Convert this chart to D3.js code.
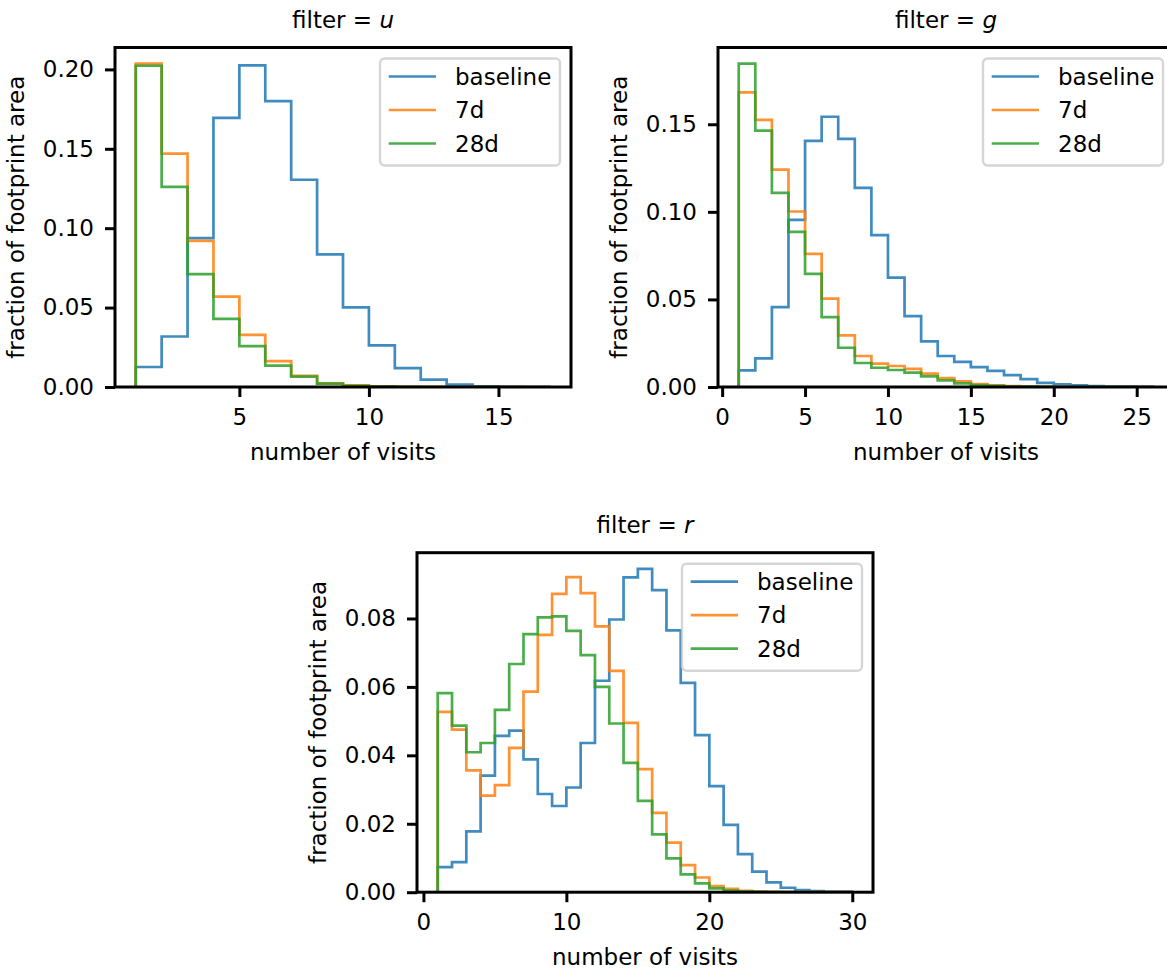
<!DOCTYPE html>
<html>
<head>
<meta charset="utf-8">
<script src="https://cdn.jsdelivr.net/npm/d3@7/dist/d3.min.js"></script>
<style>
  body { margin: 0; background: #fff; }
  svg text { font-family: "DejaVu Sans", sans-serif; fill: #000; }
</style>
</head>
<body>
<svg id="chart" width="1167" height="969"></svg>
<script>
// series labels and colours
const seriesNames = ['baseline', '7d', '28d'];
const seriesColors = ['#1f77b4', '#ff7f0e', '#2ca02c'];

// filter = u, bins of width 1 starting at 1 visit
const uFirstBin = 1;
const uBaseline = [0.0126, 0.0318, 0.0937, 0.1695, 0.2025, 0.1800, 0.1305, 0.0835, 0.0502, 0.0262, 0.0119, 0.0046, 0.0015, 0.0004, 0.0001, 0.0000];
const u7d       = [0.2036, 0.1469, 0.0920, 0.0569, 0.0328, 0.0163, 0.0071, 0.0023, 0.0010, 0.0004, 0.0001, 0.0001, 0, 0, 0, 0];
const u28d      = [0.2023, 0.1260, 0.0711, 0.0429, 0.0257, 0.0134, 0.0065, 0.0021, 0.0008, 0.0002, 0.0001, 0, 0, 0, 0, 0];
const uXTicks = [5, 10, 15];
const uYTicks = [0, 0.05, 0.10, 0.15, 0.20];

// filter = g
const gFirstBin = 1;
const gBaseline = [0.0095, 0.0163, 0.0456, 0.0954, 0.1405, 0.1543, 0.1417, 0.1137, 0.0867, 0.0624, 0.0405, 0.0261, 0.0177, 0.0144, 0.0114, 0.0092, 0.0068, 0.0045, 0.0024, 0.0015, 0.0009, 0.0005, 0.0003, 0.0002, 0.0001];
const g7d       = [0.1682, 0.1525, 0.1241, 0.1002, 0.0760, 0.0504, 0.0295, 0.0177, 0.0133, 0.0120, 0.0103, 0.0076, 0.0051, 0.0032, 0.0017, 0.0010, 0.0005, 0.0003, 0.0001, 0.0001, 0, 0, 0, 0, 0];
const g28d      = [0.1846, 0.1464, 0.1108, 0.0886, 0.0646, 0.0399, 0.0224, 0.0137, 0.0110, 0.0097, 0.0082, 0.0061, 0.0038, 0.0021, 0.0011, 0.0006, 0.0003, 0.0002, 0.0001, 0, 0, 0, 0, 0, 0];
const gXTicks = [0, 5, 10, 15, 20, 25];
const gYTicks = [0, 0.05, 0.10, 0.15];

// filter = r
const rFirstBin = 1;
const rBaseline = [0.0073, 0.0088, 0.0178, 0.0341, 0.0457, 0.0472, 0.0388, 0.0287, 0.0252, 0.0306, 0.0436, 0.0618, 0.0797, 0.0920, 0.0945, 0.0883, 0.0765, 0.0612, 0.0459, 0.0310, 0.0197, 0.0111, 0.0060, 0.0029, 0.0013, 0.0006, 0.0003, 0.0001, 0.0001];
const r7d       = [0.0527, 0.0475, 0.0356, 0.0282, 0.0313, 0.0422, 0.0586, 0.0752, 0.0872, 0.0921, 0.0874, 0.0777, 0.0647, 0.0495, 0.0360, 0.0232, 0.0145, 0.0079, 0.0043, 0.0018, 0.0010, 0.0004, 0.0002, 0.0001, 0, 0, 0, 0, 0];
const r28d      = [0.0582, 0.0487, 0.0409, 0.0436, 0.0533, 0.0667, 0.0754, 0.0803, 0.0806, 0.0764, 0.0693, 0.0600, 0.0493, 0.0378, 0.0267, 0.0169, 0.0099, 0.0052, 0.0026, 0.0011, 0.0005, 0.0002, 0.0001, 0, 0, 0, 0, 0, 0];
const rXTicks = [0, 10, 20, 30];
const rYTicks = [0, 0.02, 0.04, 0.06, 0.08];

const svg = d3.select('#chart');
svg.append('rect').attr('width', 1167).attr('height', 969).attr('fill', '#fff');

const FONT = 23;
const SPINE = 3;
const LINE = 2.7;

const panels = [
  { filter: 'u', left: 115, top: 47.5, first: uFirstBin, series: [uBaseline, u7d, u28d], xTicks: uXTicks, yTicks: uYTicks },
  { filter: 'g', left: 718, top: 47.5, first: gFirstBin, series: [gBaseline, g7d, g28d], xTicks: gXTicks, yTicks: gYTicks },
  { filter: 'r', left: 417, top: 552.7, first: rFirstBin, series: [rBaseline, r7d, r28d], xTicks: rXTicks, yTicks: rYTicks }
];

const W = 456, H = 339.5;

panels.forEach((p, pi) => {
  const nBins = p.series[0].length;
  const lo = p.first, hi = p.first + nBins;
  const pad = (hi - lo) * 0.05;
  const ymax = d3.max(p.series, s => d3.max(s)) * 1.05;

  const x = d3.scaleLinear().domain([lo - pad, hi + pad]).range([0, W]);
  const y = d3.scaleLinear().domain([0, ymax]).range([H, 0]);

  const g = svg.append('g').attr('transform', `translate(${p.left},${p.top})`);

  g.append('clipPath').attr('id', 'clip' + pi)
    .append('rect').attr('width', W).attr('height', H);

  // step histograms
  const line = d3.line().x(d => x(d[0])).y(d => y(d[1]));
  p.series.forEach((vals, si) => {
    const pts = [[lo, 0]];
    vals.forEach((v, i) => { pts.push([lo + i, v]); pts.push([lo + i + 1, v]); });
    pts.push([hi, 0]);
    g.append('path')
      .attr('d', line(pts))
      .attr('clip-path', `url(#clip${pi})`)
      .attr('fill', 'none')
      .attr('stroke', seriesColors[si])
      .attr('stroke-opacity', 0.85)
      .attr('stroke-width', LINE)
      .attr('stroke-linejoin', 'miter');
  });

  // axes
  const xAxis = g.append('g').attr('transform', `translate(0,${H})`)
    .call(d3.axisBottom(x).tickValues(p.xTicks).tickSize(10).tickPadding(11.5).tickFormat(d3.format('d')));
  const yAxis = g.append('g')
    .call(d3.axisLeft(y).tickValues(p.yTicks).tickSize(10).tickPadding(11).tickFormat(d3.format('.2f')));
  [xAxis, yAxis].forEach(a => {
    a.select('.domain').remove();
    a.selectAll('.tick line').attr('stroke', '#000').attr('stroke-width', SPINE);
    a.selectAll('.tick text').attr('font-size', FONT).attr('font-family', '"DejaVu Sans", sans-serif');
  });

  // spines
  g.append('rect').attr('width', W).attr('height', H)
    .attr('fill', 'none').attr('stroke', '#000').attr('stroke-width', SPINE);

  // legend
  const lw = 180, lh = 107;
  const leg = g.append('g').attr('transform', `translate(${W - 11 - lw},11)`);
  leg.append('rect').attr('width', lw).attr('height', lh).attr('rx', 4.5)
    .attr('fill', '#fff').attr('fill-opacity', 0.8)
    .attr('stroke', '#cccccc').attr('stroke-opacity', 0.8).attr('stroke-width', 2.4);
  seriesNames.forEach((name, i) => {
    const ry = 18 + i * 33.5;
    leg.append('line').attr('x1', 8.7).attr('x2', 56).attr('y1', ry).attr('y2', ry)
      .attr('stroke', seriesColors[i]).attr('stroke-opacity', 0.85).attr('stroke-width', LINE);
    leg.append('text').attr('x', 75).attr('y', ry).attr('dy', '0.35em')
      .attr('font-size', FONT).text(name);
  });

  // title
  const t = g.append('text').attr('x', W / 2).attr('y', -20)
    .attr('text-anchor', 'middle').attr('font-size', FONT);
  t.append('tspan').text('filter = ');
  t.append('tspan').attr('font-style', 'italic').text(p.filter);

  // axis labels
  g.append('text').attr('x', W / 2).attr('y', H + 73)
    .attr('text-anchor', 'middle').attr('font-size', FONT).text('number of visits');
  g.append('text').attr('transform', `translate(-91.5,${H / 2}) rotate(-90)`)
    .attr('text-anchor', 'middle').attr('font-size', FONT).text('fraction of footprint area');
});
</script>
</body>
</html>
